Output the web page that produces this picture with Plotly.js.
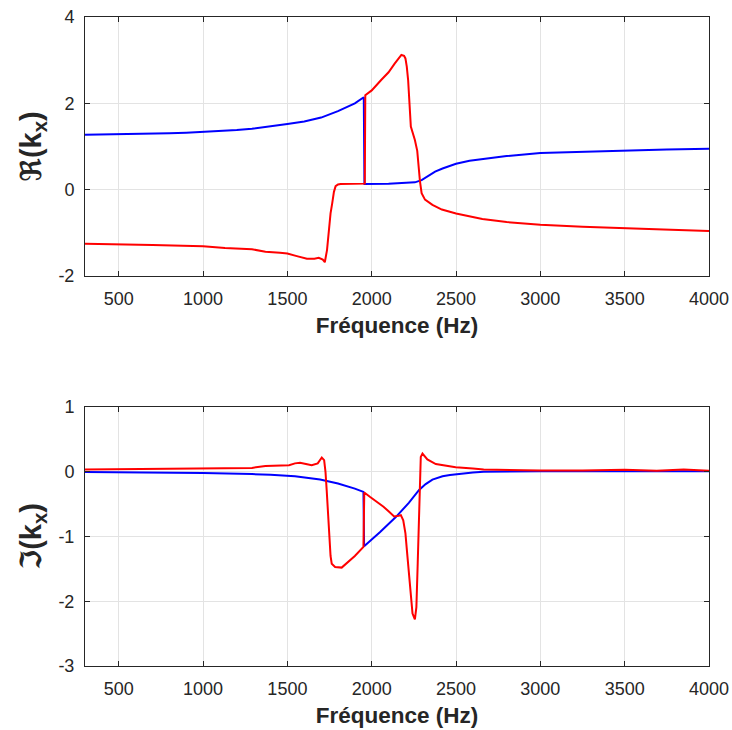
<!DOCTYPE html>
<html>
<head>
<meta charset="utf-8">
<script src="https://cdn.plot.ly/plotly-3.0.1.min.js"></script>
<style>html,body{margin:0;padding:0;background:#fff;}#chart{width:732px;height:730px;}</style>
</head>
<body>
<div id="chart"></div>
<script>
// Real part of k_x
const reBlueFreq = [300,500,650,800,900,1000,1100,1200,1290,1400,1500,1600,1700,1800,1900,1953,1957,2100,2200,2256,2296,2340,2376,2420,2464,2500,2580,2664,2800,3000,3250,3500,3750,4000];
const reBlue     = [1.27,1.28,1.29,1.305,1.32,1.335,1.355,1.38,1.41,1.46,1.52,1.58,1.67,1.82,2.0,2.14,0.13,0.14,0.15,0.17,0.22,0.32,0.42,0.49,0.55,0.60,0.67,0.71,0.78,0.85,0.88,0.91,0.93,0.95];

const reRedFreq = [300,500,700,1000,1130,1290,1370,1456,1500,1556,1616,1660,1686,1710,1722,1735,1746,1756,1766,1776,1786,1800,1816,1900,1959,1962,2000,2056,2100,2136,2160,2176,2192,2200,2208,2216,2232,2256,2270,2276,2286,2296,2316,2360,2416,2500,2576,2656,2800,3000,3250,3500,3730,4000];
const reRed     = [-1.25,-1.26,-1.28,-1.31,-1.35,-1.38,-1.44,-1.46,-1.48,-1.54,-1.6,-1.6,-1.58,-1.62,-1.68,-1.4,-0.92,-0.55,-0.31,-0.05,0.08,0.12,0.13,0.13,0.14,2.19,2.3,2.54,2.72,2.92,3.05,3.12,3.10,3.04,2.85,2.54,1.46,1.15,0.9,0.62,0.2,-0.08,-0.23,-0.35,-0.46,-0.55,-0.62,-0.68,-0.75,-0.81,-0.86,-0.9,-0.92,-0.96];

// Imaginary part of k_x
const imBlueFreq = [300,600,1000,1290,1400,1545,1694,1800,1852,1900,1951,1955,2050,2143,2220,2281,2320,2360,2420,2464,2600,2664,3000,3500,4000];
const imBlue     = [-0.005,-0.01,-0.02,-0.036,-0.045,-0.07,-0.12,-0.18,-0.22,-0.26,-0.31,-1.15,-0.93,-0.70,-0.48,-0.28,-0.19,-0.12,-0.07,-0.05,-0.01,0,0.01,0.01,0.01];

const imRedFreq = [300,600,1000,1290,1370,1450,1510,1545,1575,1610,1644,1680,1704,1718,1726,1733,1741,1749,1756,1763,1783,1822,1862,1900,1951,1956,1991,2030,2070,2100,2133,2160,2173,2187,2200,2212,2227,2242,2256,2265,2273,2281,2291,2301,2315,2330,2380,2440,2498,2600,2664,2900,3000,3250,3500,3690,3850,4000];
const imRed     = [0.036,0.04,0.05,0.06,0.09,0.09,0.1,0.13,0.14,0.12,0.10,0.13,0.22,0.18,0.0,-0.28,-0.7,-1.06,-1.3,-1.42,-1.47,-1.48,-1.39,-1.3,-1.16,-0.32,-0.39,-0.46,-0.54,-0.61,-0.69,-0.68,-0.67,-0.75,-0.95,-1.31,-1.8,-2.19,-2.28,-2.09,-1.4,-0.54,0.23,0.28,0.24,0.19,0.12,0.09,0.07,0.05,0.036,0.025,0.02,0.02,0.03,0.015,0.036,0.015];

const xTicks = [500,1000,1500,2000,2500,3000,3500,4000];
const yTicksRe = [-2,0,2,4];
const yTickTextRe = ['-2','0','2','4'];
const yTicksIm = [-3,-2,-1,0,1];
const yTickTextIm = ['-3','-2','-1','0','1'];
const xTitle = 'Fréquence (Hz)';
const yTitleRe = '<b>ℜ(k<sub>x</sub>)</b>';
const yTitleIm = '<b>ℑ(k<sub>x</sub>)</b>';

const ink = '#262626';
const lw = 2;
const traces = [
  {x: reBlueFreq, y: reBlue, xaxis:'x', yaxis:'y', mode:'lines', line:{color:'#0000ff', width:lw}},
  {x: reRedFreq, y: reRed, xaxis:'x', yaxis:'y', mode:'lines', line:{color:'#ff0000', width:lw}},
  {x: imBlueFreq, y: imBlue, xaxis:'x2', yaxis:'y2', mode:'lines', line:{color:'#0000ff', width:lw}},
  {x: imRedFreq, y: imRed, xaxis:'x2', yaxis:'y2', mode:'lines', line:{color:'#ff0000', width:lw}}
];

function xax(anchor){
  return {
    anchor: anchor, domain:[0,1], range:[300,4000], tickvals: xTicks,
    showgrid:true, gridcolor:'#e3e3e3', gridwidth:1, zeroline:false,
    showline:true, linecolor:ink, linewidth:1, mirror:'ticks',
    ticks:'inside', ticklen:5, tickcolor:ink, ticklabelstandoff:6,
    tickfont:{family:'Liberation Sans, Arial, sans-serif', size:18, color:ink},
    title:{text:'<b>'+xTitle+'</b>', font:{family:'Liberation Sans, Arial, sans-serif', size:22.5, color:ink}, standoff:9}
  };
}
function yax(anchor, dom, rng, tv, tt, title){
  return {
    anchor: anchor, domain: dom, range: rng, tickvals: tv, ticktext: tt,
    showgrid:true, gridcolor:'#e3e3e3', gridwidth:1, zeroline:false,
    showline:true, linecolor:ink, linewidth:1, mirror:'ticks',
    ticks:'inside', ticklen:5, tickcolor:ink, ticklabelstandoff:6,
    tickfont:{family:'Liberation Sans, Arial, sans-serif', size:18, color:ink},
    title:{text:title, font:{family:'Liberation Sans, DejaVu Sans, sans-serif', size:29, color:ink}, standoff:8}
  };
}

const layout = {
  width:732, height:730, showlegend:false,
  paper_bgcolor:'#ffffff', plot_bgcolor:'#ffffff',
  margin:{l:85, r:23, t:17, b:64},
  xaxis: xax('y'),
  yaxis: yax('x', [0.6009,1], [-2,4], yTicksRe, yTickTextRe, yTitleRe),
  xaxis2: xax('y2'),
  yaxis2: yax('x2', [0,0.399], [-3,1], yTicksIm, yTickTextIm, yTitleIm)
};

Plotly.newPlot('chart', traces, layout, {displayModeBar:false, staticPlot:true});
</script>
</body>
</html>
